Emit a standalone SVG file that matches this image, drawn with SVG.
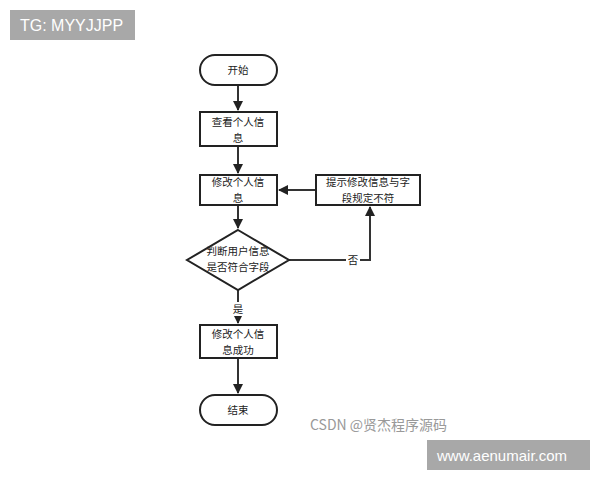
<svg xmlns="http://www.w3.org/2000/svg" width="600" height="480" viewBox="0 0 600 480">
<style>
.n{fill:#fff;stroke:#222;stroke-width:2}
.t{font-family:"Noto Sans CJK SC","Liberation Serif",serif;font-size:10.5px;fill:#222;text-anchor:middle}
.c{stroke:#333;stroke-width:2;fill:none}
</style>
<defs><marker id="a" markerWidth="10" markerHeight="10" refX="9" refY="5" orient="auto" markerUnits="userSpaceOnUse"><path d="M0,0L10,5L0,10z" fill="#222"/></marker></defs>
<rect width="600" height="480" fill="#fff"/>
<g id="edges">
<path class="c" d="M238,85V110" marker-end="url(#a)"/>
<path class="c" d="M238,146V173" marker-end="url(#a)"/>
<path class="c" d="M238,205V228" marker-end="url(#a)"/>
<path class="c" d="M238,290V323" marker-end="url(#a)"/>
<path class="c" d="M238,358V393" marker-end="url(#a)"/>
<path class="c" d="M289,260H370V207" marker-end="url(#a)"/>
<path class="c" d="M316,190H279" marker-end="url(#a)"/>
<rect x="346" y="253" width="14" height="14" fill="#fff"/>
<text class="t" x="353" y="264">否</text>
<rect x="231" y="302" width="14" height="14" fill="#fff"/>
<text class="t" x="238" y="313">是</text>
</g>
<g id="start"><rect class="n" x="200" y="55" width="77" height="30" rx="15"/><text class="t" x="238" y="74">开始</text></g>
<g id="view"><rect class="n" x="200" y="112" width="77" height="34"/><text class="t" x="238" y="126">查看个人信</text><text class="t" x="238" y="142">息</text></g>
<g id="edit"><rect class="n" x="200" y="175" width="77" height="30"/><text class="t" x="238" y="186">修改个人信</text><text class="t" x="238" y="202">息</text></g>
<g id="hint"><rect class="n" x="316" y="175" width="104" height="30"/><text class="t" x="368" y="186">提示修改信息与字</text><text class="t" x="368" y="202">段规定不符</text></g>
<g id="check"><path class="n" d="M238,230L289,260L238,290L187,260z"/><text class="t" x="238" y="255">判断用户信息</text><text class="t" x="238" y="271">是否符合字段</text></g>
<g id="ok"><rect class="n" x="200" y="325" width="77" height="33"/><text class="t" x="238" y="338">修改个人信</text><text class="t" x="238" y="354">息成功</text></g>
<g id="end"><rect class="n" x="200" y="395" width="77" height="30" rx="15"/><text class="t" x="238" y="414">结束</text></g>
<text x="310" y="430" font-family="Noto Sans CJK SC,sans-serif" font-size="14" fill="#999">CSDN @贤杰程序源码</text>
<rect x="10" y="10" width="125" height="30" fill="#a8a8a8"/>
<text x="20" y="31" font-family="Liberation Sans,sans-serif" font-size="16" fill="#fff">TG: MYYJJPP</text>
<rect x="427" y="440" width="163" height="30" fill="#a8a8a8"/>
<text x="437" y="461" font-family="Liberation Sans,sans-serif" font-size="15" fill="#fff">www.aenumair.com</text>
</svg>
